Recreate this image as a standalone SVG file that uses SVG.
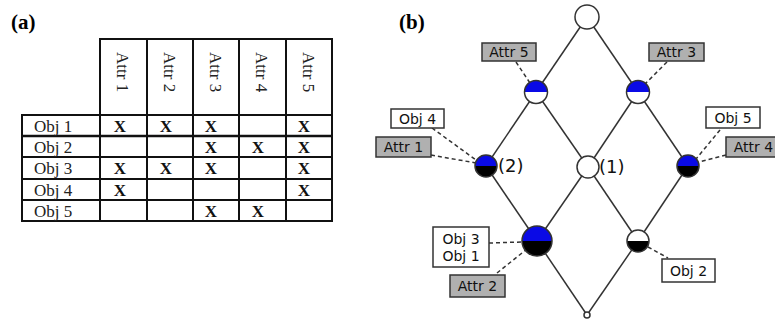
<svg xmlns="http://www.w3.org/2000/svg" width="775" height="321" viewBox="0 0 775 321">
<style>
.panel{font-family:"Liberation Serif",serif;font-weight:bold;font-size:21px;fill:#000}
.grid{stroke:#111;stroke-width:2;fill:none}
.hdr{font-family:"Liberation Serif",serif;font-size:17px;fill:#222}
.obj{font-family:"Liberation Serif",serif;font-size:17px;fill:#222}
.x{font-family:"Liberation Serif",serif;font-weight:bold;font-size:17px;fill:#111;text-anchor:middle}
.edge{stroke:#333;stroke-width:1.5;fill:none}
.dash{stroke:#333;stroke-width:1.5;fill:none;stroke-dasharray:4 3}
.ring{fill:none;stroke:#333;stroke-width:1.5}
.blue{fill:#0a0ae6}
.black{fill:#000}
.white{fill:#fff}
.abox{fill:#b0b0b0;stroke:#333;stroke-width:1.5}
.obox{fill:#fff;stroke:#333;stroke-width:1.5}
.lbl{font-family:"DejaVu Sans",sans-serif;font-size:14px;fill:#111;text-anchor:middle}
.num{font-family:"DejaVu Sans",sans-serif;font-size:18px;fill:#111}
</style>

<text class="panel" x="11" y="29">(a)</text>
<text class="panel" x="399" y="29">(b)</text>

<g id="table">
  <rect class="grid" x="100" y="39" width="232" height="76"/>
  <rect class="grid" x="22" y="115" width="310" height="106"/>
  <line class="grid" x1="147" y1="39" x2="147" y2="221"/>
  <line class="grid" x1="193" y1="39" x2="193" y2="221"/>
  <line class="grid" x1="239" y1="39" x2="239" y2="221"/>
  <line class="grid" x1="286" y1="39" x2="286" y2="221"/>
  <line class="grid" x1="100" y1="115" x2="100" y2="221"/>
  <line class="grid" x1="22" y1="136" x2="332" y2="136" style="stroke-width:2.5"/>
  <line class="grid" x1="22" y1="157" x2="332" y2="157"/>
  <line class="grid" x1="22" y1="179" x2="332" y2="179"/>
  <line class="grid" x1="22" y1="200" x2="332" y2="200"/>
  <text class="hdr" transform="translate(117,52) rotate(90)">Attr 1</text>
  <text class="hdr" transform="translate(164,52) rotate(90)">Attr 2</text>
  <text class="hdr" transform="translate(210,52) rotate(90)">Attr 3</text>
  <text class="hdr" transform="translate(256,52) rotate(90)">Attr 4</text>
  <text class="hdr" transform="translate(303,52) rotate(90)">Attr 5</text>
  <text class="obj" x="34" y="132">Obj 1</text>
  <text class="obj" x="34" y="153">Obj 2</text>
  <text class="obj" x="34" y="174">Obj 3</text>
  <text class="obj" x="34" y="196">Obj 4</text>
  <text class="obj" x="34" y="217">Obj 5</text>
  <text class="x" x="120" y="132">X</text>
  <text class="x" x="166" y="132">X</text>
  <text class="x" x="211" y="132">X</text>
  <text class="x" x="304" y="132">X</text>
  <text class="x" x="211" y="153">X</text>
  <text class="x" x="258" y="153">X</text>
  <text class="x" x="304" y="153">X</text>
  <text class="x" x="120" y="174">X</text>
  <text class="x" x="166" y="174">X</text>
  <text class="x" x="211" y="174">X</text>
  <text class="x" x="304" y="174">X</text>
  <text class="x" x="120" y="196">X</text>
  <text class="x" x="304" y="196">X</text>
  <text class="x" x="211" y="217">X</text>
  <text class="x" x="258" y="217">X</text>
</g>

<g id="connectors">
  <line class="edge" x1="587" y1="17" x2="536" y2="92"/>
  <line class="edge" x1="587" y1="17" x2="638" y2="92"/>
  <line class="edge" x1="536" y1="92" x2="486" y2="166"/>
  <line class="edge" x1="536" y1="92" x2="588" y2="167"/>
  <line class="edge" x1="638" y1="92" x2="588" y2="167"/>
  <line class="edge" x1="638" y1="92" x2="688" y2="166"/>
  <line class="edge" x1="486" y1="166" x2="537" y2="241"/>
  <line class="edge" x1="588" y1="167" x2="537" y2="241"/>
  <line class="edge" x1="588" y1="167" x2="638" y2="241"/>
  <line class="edge" x1="688" y1="166" x2="638" y2="241"/>
  <line class="edge" x1="537" y1="241" x2="587" y2="315"/>
  <line class="edge" x1="638" y1="241" x2="587" y2="315"/>
  <line class="dash" x1="516" y1="62" x2="530" y2="83"/>
  <line class="dash" x1="667" y1="62" x2="645" y2="84"/>
  <line class="dash" x1="432" y1="128" x2="476" y2="160"/>
  <line class="dash" x1="431" y1="155" x2="476" y2="163"/>
  <line class="dash" x1="720" y1="130" x2="696" y2="159"/>
  <line class="dash" x1="726" y1="155" x2="699" y2="162"/>
  <line class="dash" x1="489" y1="243" x2="522" y2="242"/>
  <line class="dash" x1="497" y1="273" x2="527" y2="249"/>
  <line class="dash" x1="648" y1="247" x2="668" y2="258"/>
</g>

<g id="node-top">
  <circle class="white" cx="587" cy="17" r="12"/>
  <circle class="ring" cx="587" cy="17" r="12"/>
</g>
<g id="node-attr5">
  <path class="blue" d="M524.5,92 A11.5,11.5 0 0 1 547.5,92 Z"/>
  <path class="white" d="M524.5,92 A11.5,11.5 0 0 0 547.5,92 Z"/>
  <circle class="ring" cx="536" cy="92" r="11.5"/>
</g>
<g id="node-attr3">
  <path class="blue" d="M626.5,92 A11.5,11.5 0 0 1 649.5,92 Z"/>
  <path class="white" d="M626.5,92 A11.5,11.5 0 0 0 649.5,92 Z"/>
  <circle class="ring" cx="638" cy="92" r="11.5"/>
</g>
<g id="node-2">
  <path class="blue" d="M475,166 A11,11 0 0 1 497,166 Z"/>
  <path class="black" d="M475,166 A11,11 0 0 0 497,166 Z"/>
  <circle class="ring" cx="486" cy="166" r="11"/>
  <text class="num" x="498" y="172">(2)</text>
</g>
<g id="node-1">
  <circle class="white" cx="588" cy="167" r="11"/>
  <circle class="ring" cx="588" cy="167" r="11"/>
  <text class="num" x="599" y="173">(1)</text>
</g>
<g id="node-attr4">
  <path class="blue" d="M677,166 A11,11 0 0 1 699,166 Z"/>
  <path class="black" d="M677,166 A11,11 0 0 0 699,166 Z"/>
  <circle class="ring" cx="688" cy="166" r="11"/>
</g>
<g id="node-obj31">
  <path class="blue" d="M522,241 A15,15 0 0 1 552,241 Z"/>
  <path class="black" d="M522,241 A15,15 0 0 0 552,241 Z"/>
  <circle class="ring" cx="537" cy="241" r="15"/>
</g>
<g id="node-obj2">
  <path class="white" d="M627,241 A11,11 0 0 1 649,241 Z"/>
  <path class="black" d="M627,241 A11,11 0 0 0 649,241 Z"/>
  <circle class="ring" cx="638" cy="241" r="11"/>
</g>
<g id="node-bottom">
  <circle class="white" cx="587" cy="315" r="3"/>
  <circle class="ring" cx="587" cy="315" r="3"/>
</g>

<g id="label-attr5"><rect class="abox" x="482" y="43" width="54" height="18"/><text class="lbl" x="509" y="57">Attr 5</text></g>
<g id="label-attr3"><rect class="abox" x="649" y="43" width="55" height="18"/><text class="lbl" x="676.5" y="57">Attr 3</text></g>
<g id="label-obj4"><rect class="obox" x="391" y="109" width="53" height="19"/><text class="lbl" x="417.5" y="123.5">Obj 4</text></g>
<g id="label-attr1"><rect class="abox" x="376" y="137" width="55" height="20"/><text class="lbl" x="403.5" y="152">Attr 1</text></g>
<g id="label-obj5"><rect class="obox" x="706" y="107" width="54" height="21"/><text class="lbl" x="733" y="122.5">Obj 5</text></g>
<g id="label-attr4"><rect class="abox" x="726" y="137" width="55" height="20"/><text class="lbl" x="753.5" y="152">Attr 4</text></g>
<g id="label-obj31"><rect class="obox" x="433" y="227" width="56" height="40"/><text class="lbl" x="461" y="244">Obj 3</text><text class="lbl" x="461" y="261">Obj 1</text></g>
<g id="label-attr2"><rect class="abox" x="450" y="275" width="55" height="22"/><text class="lbl" x="477.5" y="291">Attr 2</text></g>
<g id="label-obj2"><rect class="obox" x="662" y="259" width="53" height="23"/><text class="lbl" x="688.5" y="275.5">Obj 2</text></g>
</svg>
